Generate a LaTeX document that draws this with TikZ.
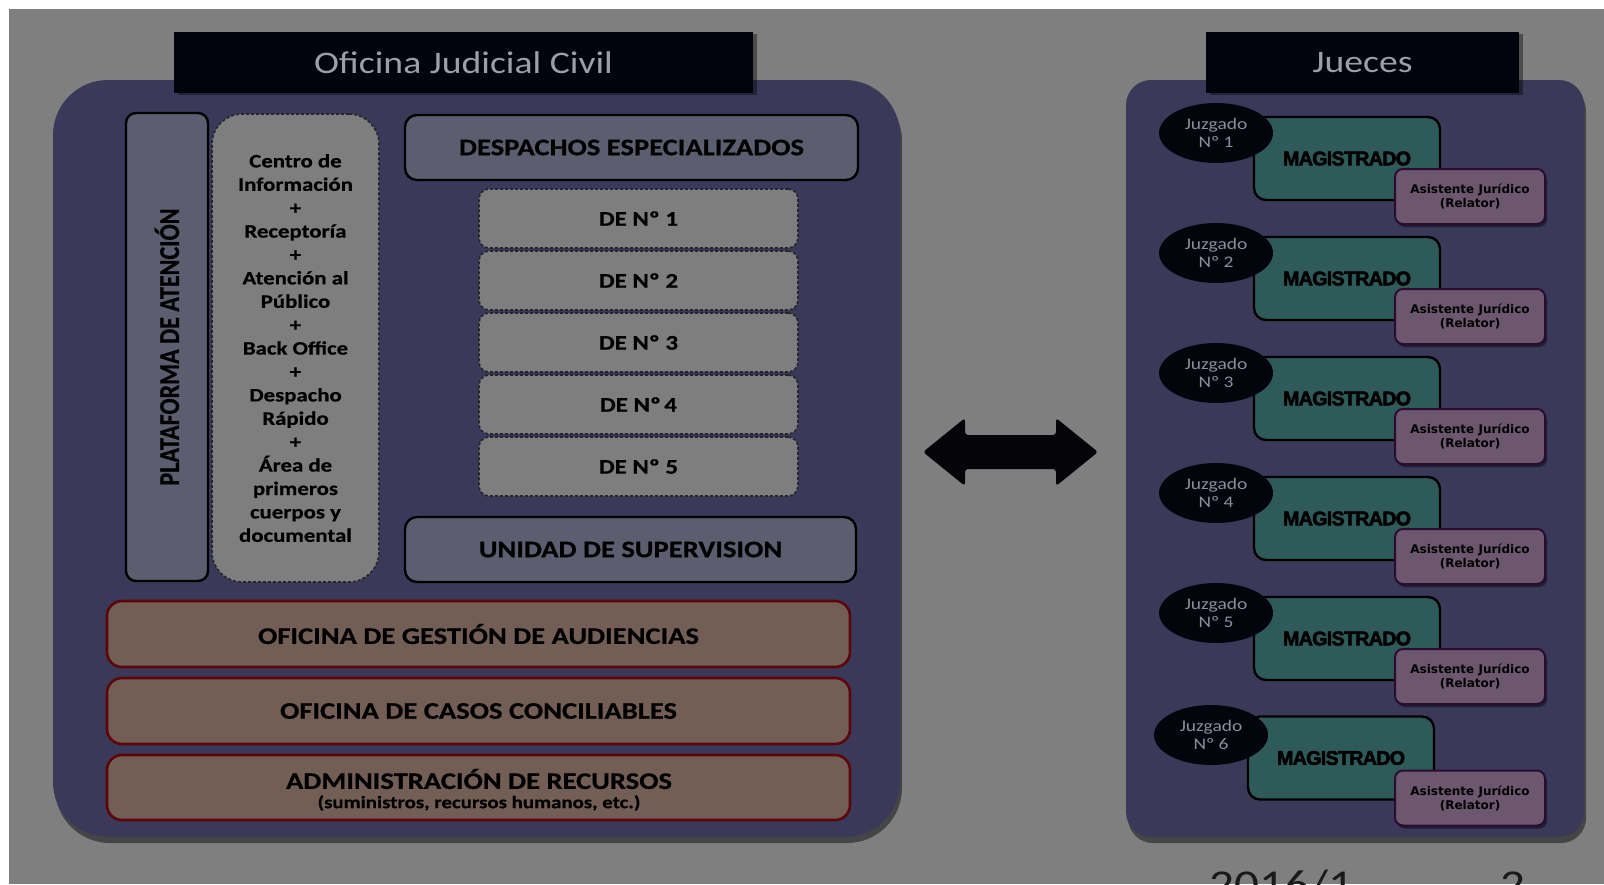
\documentclass[tikz,border=0pt]{standalone}
\usepackage{fontspec}
\usepackage{graphicx}
\setmainfont{Carlito}[FakeStretch=1.2,BoldFeatures={FakeBold=0.6}]
\newfontfamily\plainfont{Carlito}[BoldFeatures={FakeBold=0.6}]
\newfontfamily\magfont{Liberation Sans}[BoldFeatures={FakeBold=2.5,LetterSpace=-4}]
\newfontfamily\asfont{DejaVu Sans}
\usetikzlibrary{shadows,shapes.geometric}
\definecolor{bggrey}{HTML}{7F7F7F}
\definecolor{navy}{HTML}{3A3959}
\definecolor{titleblk}{HTML}{03030E}
\definecolor{titletxt}{HTML}{9E9EA8}
\definecolor{slate}{HTML}{5D5D70}
\definecolor{lightgrey}{HTML}{7E7E7F}
\definecolor{dashcol}{HTML}{25252E}
\definecolor{brownfill}{HTML}{725E55}
\definecolor{brownedge}{HTML}{5C0609}
\definecolor{tealfill}{HTML}{2E5A5A}
\definecolor{purplefill}{HTML}{6D576F}
\definecolor{purpleedge}{HTML}{2C0B31}
\definecolor{ovalfill}{HTML}{04040C}
\definecolor{ovaltxt}{HTML}{8E8E98}
\definecolor{pagetxt}{HTML}{1A1A1A}
\definecolor{arrowcol}{HTML}{050509}
\newcommand{\fsz}[2]{\fontsize{#1}{#2}\selectfont}
\begin{document}
\begin{tikzpicture}[x=0.5pt,y=-0.5pt,
  panelshadow/.style={drop shadow={shadow xshift=1pt,shadow yshift=-3pt,opacity=0.45,fill=black}},
  smallshadow/.style={drop shadow={shadow xshift=1pt,shadow yshift=-1.5pt,opacity=0.45,fill=black}},
  panel/.style={fill=navy,draw=none,inner sep=0pt,panelshadow},
  hdr/.style={fill=titleblk,text=titletxt,inner sep=0pt,font=\fsz{15.7}{18},
    drop shadow={shadow xshift=2pt,shadow yshift=-1pt,opacity=0.4,fill=black}},
  slatebox/.style={fill=slate,draw=black,line width=1.2pt,rounded corners=6pt,
    font=\bfseries\fsz{11.9}{14},inner sep=0pt},
  dashbox/.style={fill=lightgrey,draw=dashcol,line width=0.8pt,
    dash pattern=on 1.5pt off 1pt,inner sep=0pt},
  brownbox/.style={fill=brownfill,draw=brownedge,line width=1.3pt,rounded corners=7.5pt,
    minimum width=371.5pt,font=\bfseries\fsz{11.9}{14},inner sep=0pt},
  magbox/.style={fill=tealfill,draw=black,line width=1.2pt,rounded corners=6pt,
    minimum width=93pt,minimum height=41.5pt,font=\magfont\bfseries\fsz{9.9}{11},inner sep=0pt},
  oval/.style={ellipse,fill=ovalfill,minimum width=57pt,minimum height=30pt,text=ovaltxt,
    align=center,font=\fsz{8.1}{9},inner sep=0pt},
  asbox/.style={fill=purplefill,draw=purpleedge,line width=1pt,rounded corners=4pt,
    minimum width=75pt,minimum height=27.5pt,align=center,font=\asfont\bfseries\fsz{6}{7},
    inner sep=0pt,smallshadow},
  pagenum/.style={anchor=base west,text=pagetxt,font=\fsz{20.5}{24},inner sep=0pt}
]
\useasboundingbox (0,0) rectangle (1604,884);
\clip (0,0) rectangle (1604,884);
\fill[white] (0,0) rectangle (1604,884);
\fill[bggrey] (9,9) rectangle (1604,884);

% ---------- left panel ----------
\node[panel,rounded corners=27.5pt,minimum width=423.5pt,minimum height=378.5pt] (left) at (476.5,458.5) {};
\node[hdr,minimum width=289.5pt,minimum height=30.5pt] (lefttitle) at (463.5,62.5) {Oficina Judicial Civil};

\node[slatebox,rounded corners=5pt,minimum width=41pt,minimum height=234pt] (plat) at (167,347)
  {\rotatebox{90}{\scalebox{1}[1.2]{\plainfont\bfseries\fsz{12}{14}PLATAFORMA DE ATENCIÓN}}};

\node[dashbox,rounded corners=15pt,minimum width=83.5pt,minimum height=234pt,align=center,
  font=\bfseries\fsz{9.5}{11.7}] (centro) at (295.5,348)
  {Centro de\\Información\\+\\Receptoría\\+\\Atención al\\Público\\+\\Back Office\\+\\Despacho\\Rápido\\+\\Área de\\primeros\\cuerpos y\\documental};

\node[slatebox,minimum width=226.5pt,minimum height=32.5pt] (desp) at (631.5,147.5) {DESPACHOS ESPECIALIZADOS};
\foreach \i/\lab in {0/DE Nº 1,1/DE Nº 2,2/DE Nº 3,3/DE Nº\,4,4/DE Nº 5}{
  \node[dashbox,rounded corners=5pt,minimum width=159.5pt,minimum height=29.5pt,
    font=\bfseries\fsz{10.4}{12}] (de\i) at (638.5,{218.5+62*\i}) {\lab};
}
\node[slatebox,minimum width=225.5pt,minimum height=32.5pt] (unidad) at (630.5,549.5) {UNIDAD DE SUPERVISION};

\node[brownbox,minimum height=33pt] (ogaud) at (478.5,634) {OFICINA DE GESTIÓN DE AUDIENCIAS};
\node[brownbox,minimum height=33pt] (occ) at (478.5,711) {OFICINA DE CASOS CONCILIABLES};
\node[brownbox,minimum height=32.5pt] (admin) at (478.5,787.5) {};
\node[font=\bfseries\fsz{11.9}{14},inner sep=0pt] (admintxt) at (479,779) {ADMINISTRACIÓN DE RECURSOS};
\node[font=\bfseries\fsz{8.7}{10},inner sep=0pt] (adminsub) at (479,803) {(suministros, recursos humanos, etc.)};

% ---------- double arrow ----------
\fill[arrowcol,rounded corners=1.5pt] (923,452) -- (965,418) -- (965,435) -- (1056,435)
  -- (1056,418) -- (1098,452) -- (1056,486) -- (1056,469) -- (965,469) -- (965,486) -- cycle;

% ---------- right panel ----------
\node[panel,rounded corners=12.5pt,minimum width=229pt,minimum height=378.5pt] (right) at (1355,458.5) {};
\node[hdr,minimum width=156.5pt,minimum height=30.5pt] (righttitle) at (1362.5,62.5) {Jueces};

\foreach \i/\n in {0/1,1/2,2/3,3/4,4/5}{
  \node[magbox] (mag\n) at (1347,{158.5+120*\i}) {MAGISTRADO};
  \node[oval] (juz\n) at (1216,{133+120*\i}) {Juzgado\\Nº \n};
  \node[asbox] (asis\n) at (1470,{196.5+120*\i}) {Asistente Jurídico\\(Relator)};
}
\node[magbox] (mag6) at (1341,758) {MAGISTRADO};
\node[oval] (juz6) at (1211,735) {Juzgado\\Nº 6};
\node[asbox] (asis6) at (1470,798) {Asistente Jurídico\\(Relator)};

% ---------- page footer ----------
\node[pagenum] (date) at (1209,898) {2016/1};
\node[pagenum] (pg) at (1500,898) {2};
\end{tikzpicture}
\end{document}
